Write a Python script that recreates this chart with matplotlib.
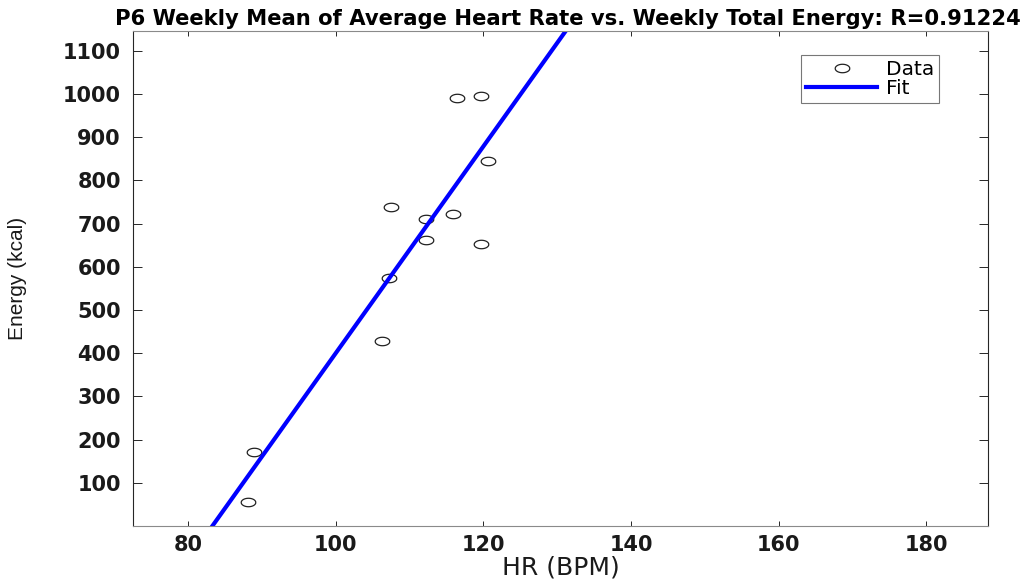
import numpy as np
import matplotlib
matplotlib.use("Agg")
import matplotlib.pyplot as plt
from matplotlib.path import Path

# Data
hr = [116.4, 119.7, 120.7, 107.5, 112.2, 115.9, 112.3, 119.7, 107.2, 106.3, 89.0, 88.1]
energy = [992, 995, 845, 739, 711, 723, 662, 652, 575, 428, 172, 56]
x_ticks = [80, 100, 120, 140, 160, 180]
y_ticks = [100, 200, 300, 400, 500, 600, 700, 800, 900, 1000, 1100]
title = "P6 Weekly Mean of Average Heart Rate vs. Weekly Total Energy: R=0.91224"

x = np.array(hr)
y = np.array(energy)
slope, intercept = np.polyfit(x, y, 1)
xf = np.array([70.0, 190.0])
yf = slope * xf + intercept

fig = plt.figure(figsize=(10.29, 5.82), dpi=100)
ax = fig.add_axes([0.1295, 0.0967, 0.9605 - 0.1295, 0.9473 - 0.0967])

t = np.linspace(0, 2 * np.pi, 41)
ell = Path(np.column_stack([np.cos(t), 0.58 * np.sin(t)]))

ax.plot(x, y, linestyle='none', marker=ell, markersize=10.5,
        markerfacecolor='none', markeredgecolor='#222222', markeredgewidth=0.9,
        label='Data')
ax.plot(xf, yf, color='#0000ff', linewidth=3.0, label='Fit')

ax.set_xlim(72.6, 188.4)
ax.set_ylim(0.4, 1147)
ax.set_xticks(x_ticks)
ax.set_yticks(y_ticks)

ax.tick_params(axis='both', direction='in', top=True, right=True, colors='#262626')
ax.tick_params(axis='y', length=6.5, width=0.7, pad=9)
ax.tick_params(axis='x', length=3.8, width=0.7, pad=7)
for lab in ax.get_xticklabels() + ax.get_yticklabels():
    lab.set_fontfamily('DejaVu Sans')
    lab.set_fontweight('bold')
    lab.set_fontsize(15)
    lab.set_color('#1a1a1a')

for side in ['left', 'right']:
    ax.spines[side].set_color('#262626')
    ax.spines[side].set_linewidth(0.8)
for side in ['top', 'bottom']:
    ax.spines[side].set_color('#8a8a8a')
    ax.spines[side].set_linewidth(0.8)

ax.set_title(title, fontfamily='DejaVu Sans', fontweight='bold', fontsize=15.2,
             color='black', pad=4, x=0.508)
ax.set_xlabel('HR (BPM)', fontfamily='DejaVu Sans', fontsize=18, color='#1a1a1a', labelpad=0)
ax.set_ylabel('Energy (kcal)', fontfamily='Liberation Sans', fontsize=15, color='#1a1a1a', labelpad=26)

leg = ax.legend(loc='upper right', bbox_to_anchor=(0.9425, 0.951), frameon=True, fancybox=False,
                prop={'family': 'DejaVu Sans', 'size': 14.5}, handlelength=3.5,
                borderpad=0.25, labelspacing=0.0, handletextpad=0.45, borderaxespad=0.0)
leg.get_frame().set_edgecolor('#555555')
leg.get_frame().set_linewidth(0.8)

fig.savefig('out.png', dpi=100)
